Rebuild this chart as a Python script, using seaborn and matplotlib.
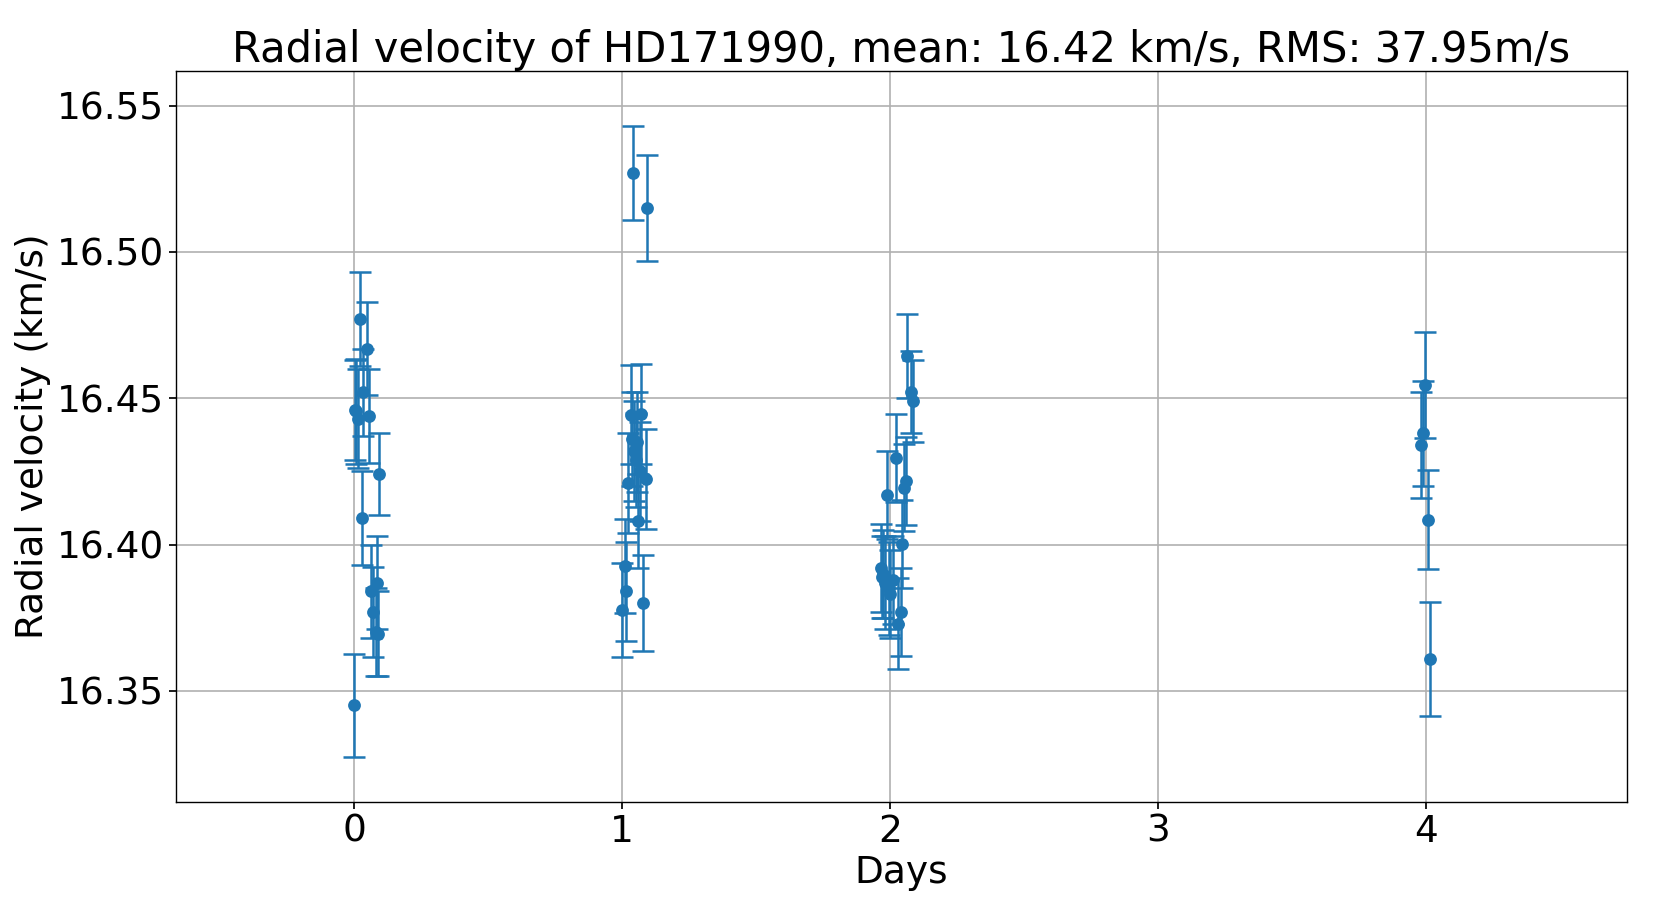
import pandas as pd
import seaborn as sns
import matplotlib.pyplot as plt

# --- data (days since first obs, RV in km/s, 1-sigma err) ---
days_n0 = [0.000, 0.004, 0.007, 0.015, 0.022, 0.028, 0.034, 0.049, 0.056, 0.062, 0.071, 0.080, 0.084, 0.090, 0.094]
rv_n0 = [16.345, 16.446, 16.4455, 16.443, 16.477, 16.409, 16.452, 16.467, 16.444, 16.384, 16.377, 16.370, 16.387, 16.3695, 16.424]
err_n0 = [0.0175, 0.017, 0.018, 0.017, 0.016, 0.016, 0.015, 0.016, 0.016, 0.016, 0.0155, 0.015, 0.016, 0.0145, 0.014]

days_n1 = [1.000, 1.009, 1.016, 1.020, 1.031, 1.036, 1.040, 1.044, 1.050, 1.055, 1.059, 1.065, 1.071, 1.078, 1.087, 1.094]
rv_n1 = [16.3777, 16.3926, 16.384, 16.421, 16.4444, 16.436, 16.527, 16.432, 16.429, 16.435, 16.408, 16.425, 16.4447, 16.380, 16.4224, 16.515]
err_n1 = [0.016, 0.016, 0.017, 0.017, 0.017, 0.016, 0.016, 0.017, 0.016, 0.017, 0.016, 0.017, 0.017, 0.0165, 0.017, 0.018]

days_n2 = [1.965, 1.970, 1.975, 1.980, 1.990, 1.995, 2.000, 2.010, 2.021, 2.031, 2.040, 2.046, 2.053, 2.058, 2.063, 2.079, 2.085]
rv_n2 = [16.392, 16.389, 16.390, 16.387, 16.417, 16.385, 16.383, 16.388, 16.4295, 16.373, 16.377, 16.4003, 16.4195, 16.4217, 16.4645, 16.452, 16.449]
err_n2 = [0.015, 0.014, 0.015, 0.016, 0.015, 0.016, 0.015, 0.015, 0.015, 0.0156, 0.015, 0.015, 0.015, 0.015, 0.0143, 0.014, 0.014]

days_n4 = [3.980, 3.990, 3.997, 4.006, 4.014]
rv_n4 = [16.434, 16.438, 16.4545, 16.4085, 16.361]
err_n4 = [0.018, 0.018, 0.018, 0.017, 0.0195]

df = pd.DataFrame({
    "Days": days_n0 + days_n1 + days_n2 + days_n4,
    "RV": rv_n0 + rv_n1 + rv_n2 + rv_n4,
    "Err": err_n0 + err_n1 + err_n2 + err_n4,
})

sns.set_theme(style="whitegrid", rc={
    "axes.edgecolor": "black",
    "axes.linewidth": 1.0,
    "grid.color": "#b0b0b0",
    "grid.linewidth": 1.2,
    "xtick.bottom": True,
    "ytick.left": True,
    "xtick.major.size": 5,
    "ytick.major.size": 5,
    "xtick.color": "black",
    "ytick.color": "black",
    "text.color": "black",
    "axes.labelcolor": "black",
})
plt.rcParams["font.family"] = ["DejaVu Sans"]

blue = "#1f77b4"
fig, ax = plt.subplots(figsize=(16.53, 9.24), dpi=100)
fig.subplots_adjust(left=0.1065, right=0.9843, top=0.9236, bottom=0.132)

ax.errorbar(df["Days"], df["RV"], yerr=df["Err"], fmt="none", ecolor=blue,
            elinewidth=1.8, capsize=8, capthick=1.8, zorder=2)
sns.scatterplot(data=df, x="Days", y="RV", color=blue, s=85, edgecolor=blue,
                linewidth=0, ax=ax, zorder=3)

ax.set_xlim(-0.665, 4.75)
ax.set_ylim(16.312, 16.562)
ax.set_xticks([0, 1, 2, 3, 4])
ax.set_yticks([16.35, 16.40, 16.45, 16.50, 16.55])
ax.set_yticklabels(["16.35", "16.40", "16.45", "16.50", "16.55"])
ax.tick_params(labelsize=27)
ax.set_xlabel("Days", fontsize=27)
ax.set_ylabel("Radial velocity (km/s)", fontsize=27)
ax.set_title("Radial velocity of HD171990, mean: 16.42 km/s, RMS: 37.95m/s", fontsize=30)

fig.savefig("out.png", dpi=100)
